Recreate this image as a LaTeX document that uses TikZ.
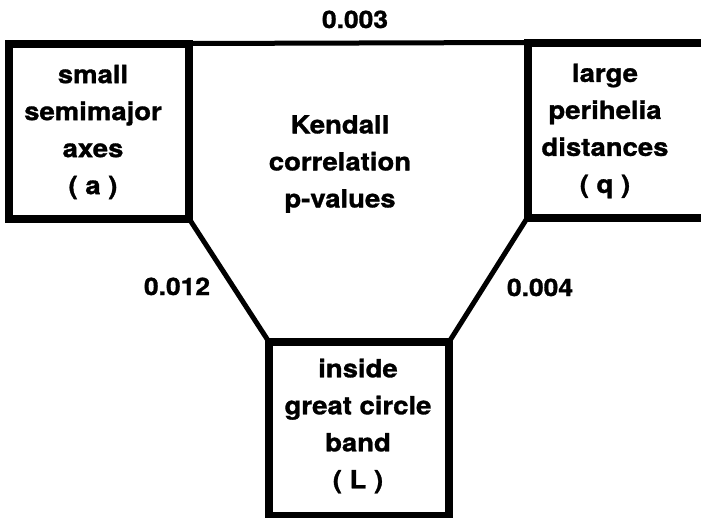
\documentclass[tikz,border=0pt]{standalone}
\usepackage{fontspec}
\newfontfamily\hb{TeX Gyre Heros}[FakeStretch=1.1, BoldFeatures={FakeBold=1.2}]
\begin{document}
\begin{tikzpicture}[x=1pt,y=-1pt,
  boxst/.style={draw=black, line width=8pt, outer sep=0pt, inner sep=0pt, fill=white},
  conn/.style={draw=black, line width=5pt},
  txt/.style={font=\hb\bfseries\fontsize{25}{37}\selectfont, align=center, inner sep=0pt},
  num/.style={font=\hb\bfseries\fontsize{24}{28}\selectfont, inner sep=0pt, anchor=base}]
\fill[white] (0,0) rectangle (701,517);
\useasboundingbox (0,0) rectangle (701,517);
\clip (0,0) rectangle (701,517);
% boxes
\node[boxst, minimum width=180pt, minimum height=175pt] (A) at (99,131) {};
\node[boxst, minimum width=192pt, minimum height=175pt] (Q) at (623.5,130) {};
\node[boxst, minimum width=180pt, minimum height=174pt] (L) at (359,429) {};
% connectors
\draw[conn] (A.north east) -- (Q.north west);
\draw[conn] (A.south east) -- (L.north west);
\draw[conn] (Q.south west) -- (L.north east);
% texts
\node[txt] (ta) at (93,132) {small\\semimajor\\axes\\( a )};
\node[txt] (tq) at (605,131) {large\\perihelia\\distances\\( q )};
\node[txt] (tl) at (358,426) {inside\\great circle\\band\\( L )};
\node[txt] (tk) at (340,164) {Kendall\\correlation\\p-values};
% p-values
\node[num] (n1) at (355,28) {0.003};
\node[num] (n2) at (177,295) {0.012};
\node[num] (n3) at (540,296) {0.004};
\end{tikzpicture}
\end{document}
